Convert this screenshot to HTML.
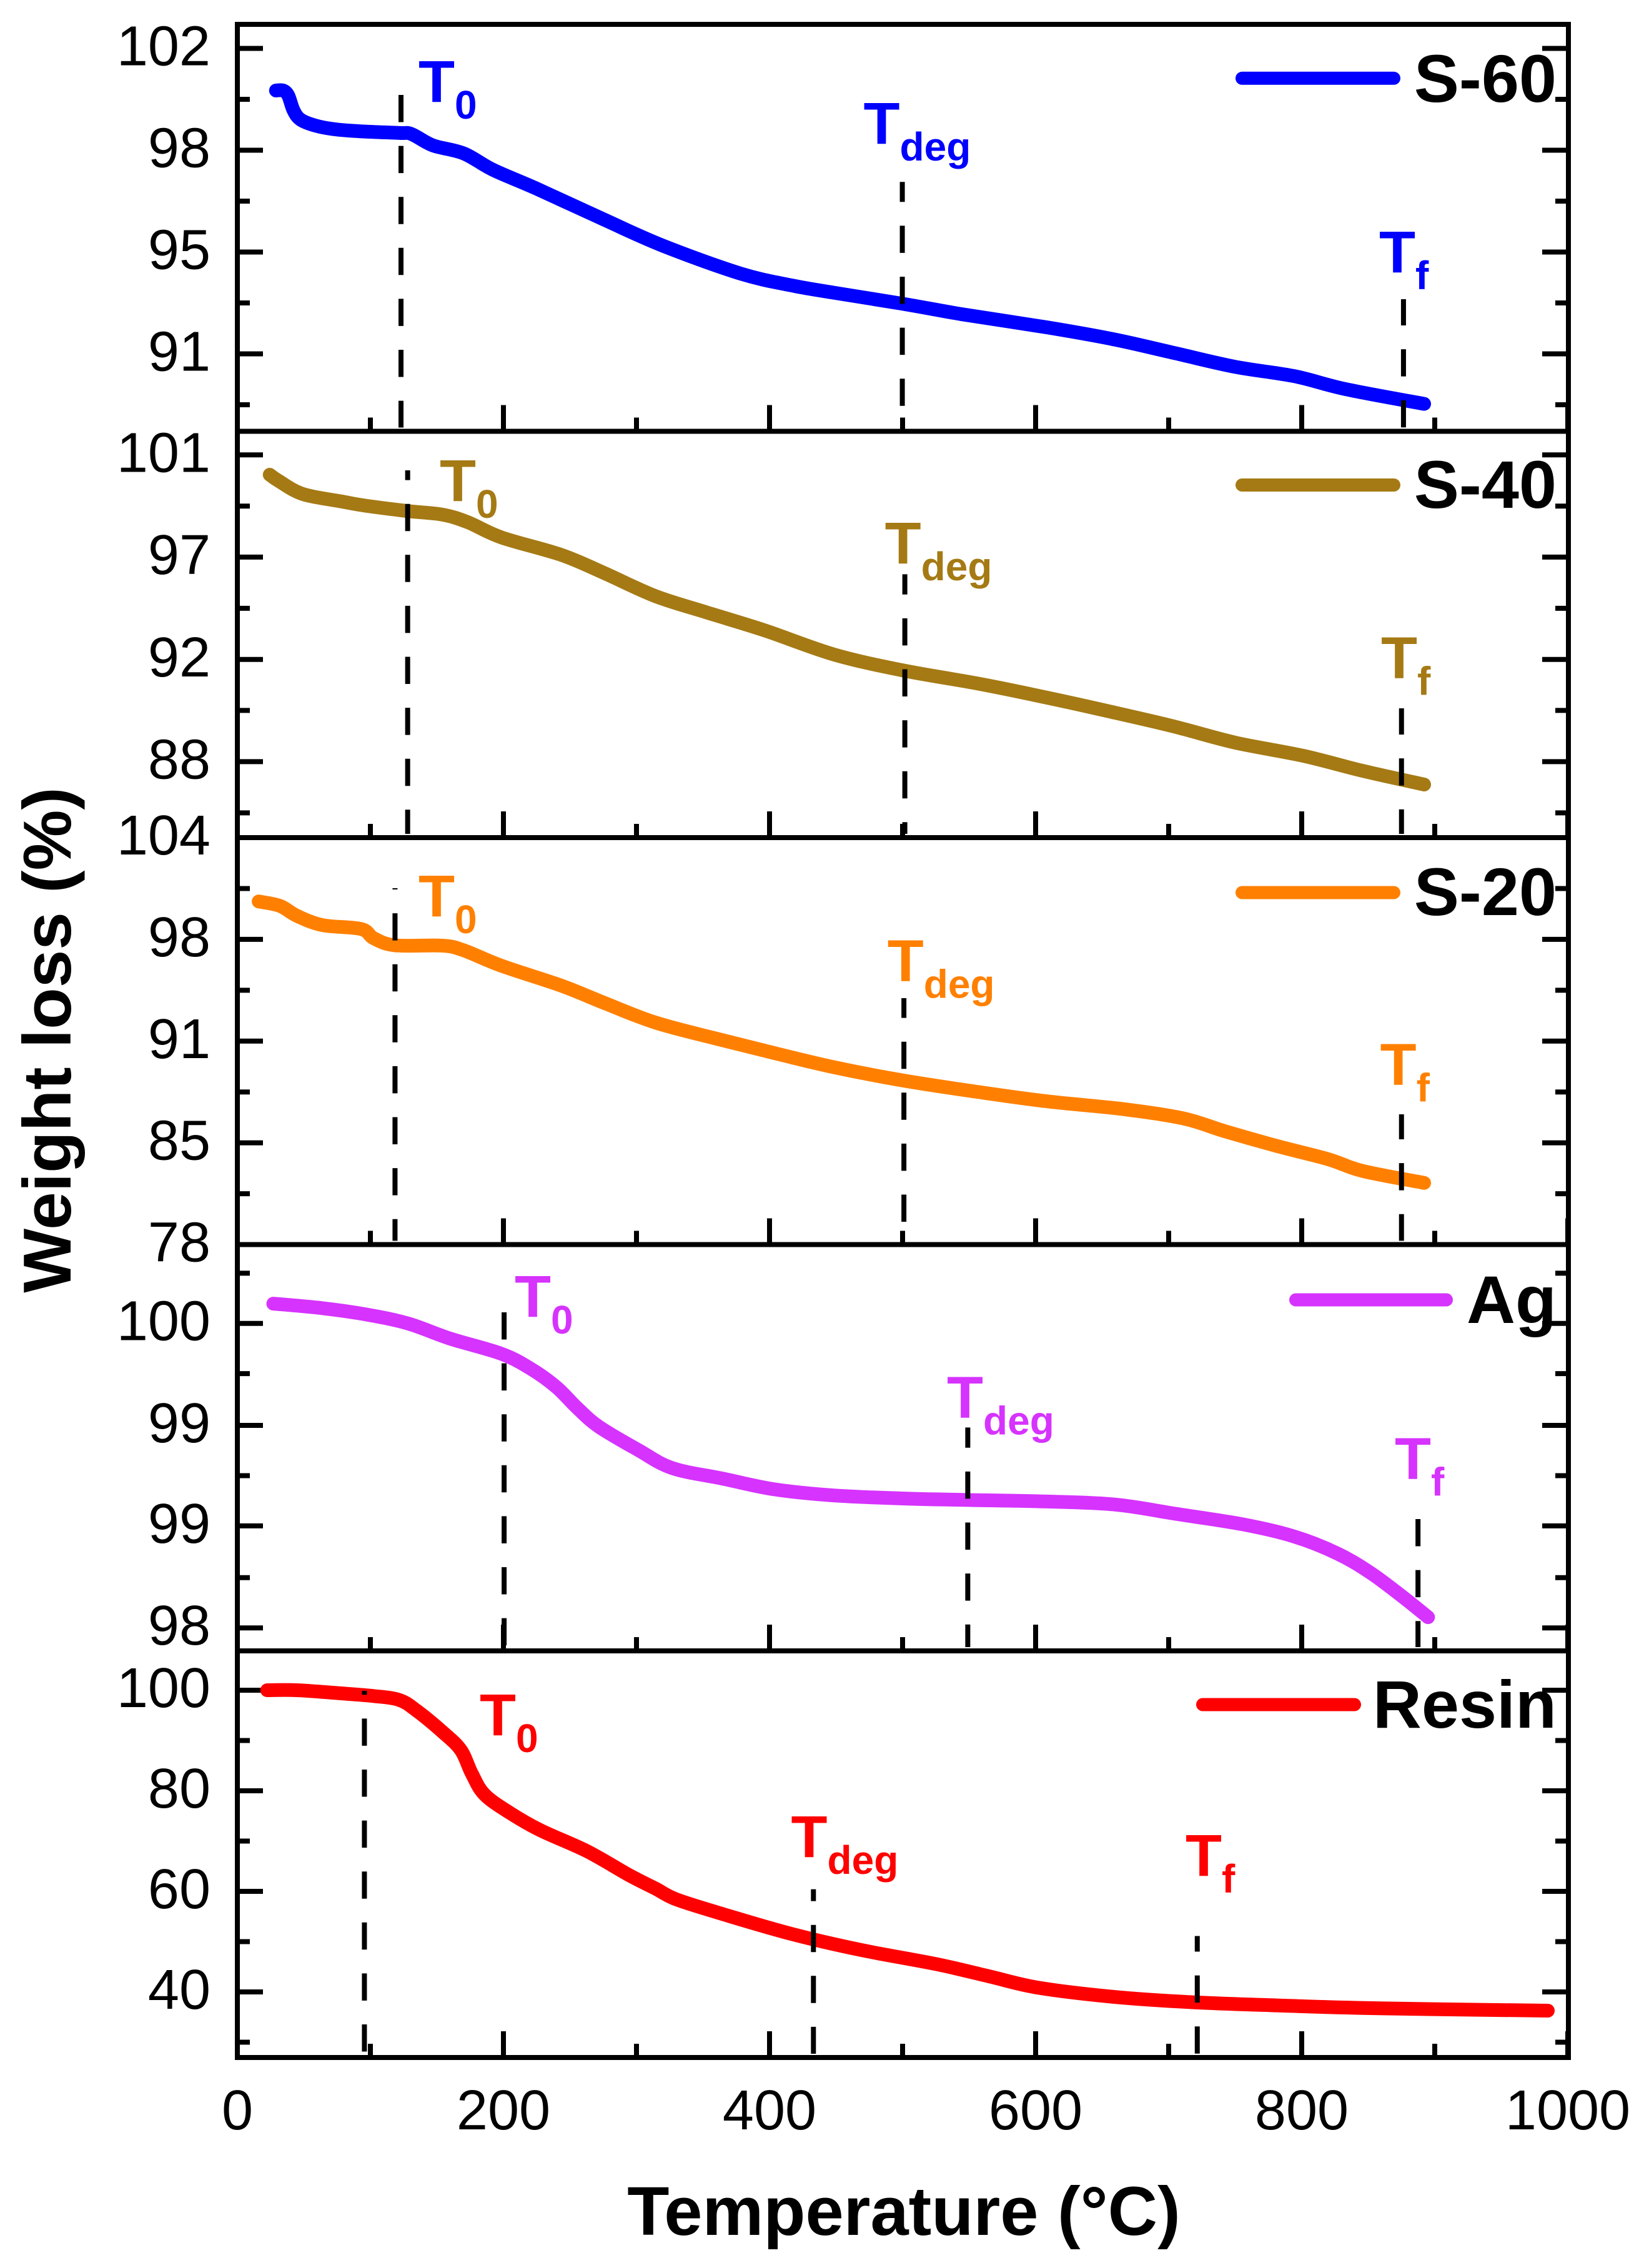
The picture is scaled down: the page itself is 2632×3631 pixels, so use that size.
<!DOCTYPE html>
<html lang="en">
<head>
<meta charset="utf-8">
<title>TGA stacked weight loss chart</title>
<style>
html,body{margin:0;padding:0;background:#fff;}
svg{display:block;}
text{font-family:"Liberation Sans",Arial,sans-serif;}
</style>
</head>
<body>
<svg id="chart" xmlns="http://www.w3.org/2000/svg" width="2632" height="3631" viewBox="0 0 2632 3631">
  <rect x="0" y="0" width="2632" height="3631" fill="#fff"/>
  <text transform="translate(113,1665) rotate(-90)" text-anchor="middle" font-weight="bold" font-size="109" fill="#000">Weight loss (%)</text>
  <text x="1447" y="3578" text-anchor="middle" font-weight="bold" font-size="110" fill="#000">Temperature (°C)</text>
</svg>
<script>
const xTicks = [0, 200, 400, 600, 800, 1000];
const xMinorTicks = [100, 300, 500, 700, 900];

const s60Temps = [29,34.4,38.3,42.2,47.6,59.5,75.1,96,122,131,147,170,192,224,275.5,320,378,416.5,448.5,500,544.6,609,660,705,750,794.5,833,892];
const s60Values = [100.51,100.51,100.33,99.81,99.48,99.26,99.13,99.06,99.01,98.97,98.57,98.29,97.71,97.06,95.95,95.02,94.04,93.62,93.36,92.97,92.6,92.13,91.7,91.22,90.74,90.41,89.95,89.43];
const s60Ticks = [102, 98.4, 94.8, 91.2];
const s60MinorTicks = [100.2, 96.6, 93, 89.4];
const s60TickLabels = ["102", "98", "95", "91"];
const s60Markers = [123, 499.8, 876.5];

const s40Temps = [24.3,31,49.3,79,96,128,154,173,198.6,243.5,275.5,314,352.4,397,448.5,500,557.4,608.7,660,704.8,749.7,801,845.8,892];
const s40Values = [100.16,99.9,99.34,99.02,98.85,98.62,98.47,98.15,97.5,96.76,96,95.02,94.33,93.55,92.54,91.87,91.3,90.71,90.07,89.48,88.81,88.25,87.61,87.03];
const s40Ticks = [101, 96.67, 92.33, 88];
const s40MinorTicks = [98.83, 94.5, 90.17, 85.83];
const s40TickLabels = ["101", "97", "92", "88"];
const s40Markers = [128, 501.7, 875];

const s20Temps = [16,32,44.9,64,93,102.5,118.5,153.8,169.8,198.6,243.5,275.5,314,358.8,403.7,448.5,499.8,557.4,608.7,666.4,711,743,781.7,820,845.8,892];
const s20Values = [99.92,99.64,99,98.41,98.16,97.57,97.12,97.1,96.81,95.81,94.54,93.45,92.19,91.18,90.23,89.33,88.49,87.74,87.15,86.65,86.06,85.22,84.29,83.45,82.7,81.94];
const s20Ticks = [104, 97.5, 91, 84.5, 78];
const s20MinorTicks = [100.75, 94.25, 87.75, 81.25];
const s20TickLabels = ["104", "98", "91", "85", "78"];
const s20Markers = [118.5, 501, 875];

const agTemps = [27,64,96,128,160,198.6,221,240,256,272,301,326.8,365,403.7,448.5,500,551,608.7,660,704.8,756,794.5,826.5,852,878,895];
const agValues = [100.13,100.1,100.06,100,99.9,99.8,99.7,99.58,99.44,99.32,99.17,99.05,98.98,98.91,98.87,98.85,98.84,98.83,98.81,98.75,98.68,98.6,98.49,98.36,98.19,98.07];
const agTicks = [100, 99.33, 98.67, 98];
const agMinorTicks = [100.33, 99.67, 99, 98.33];
const agTickLabels = ["100", "99", "99", "98"];
const agMarkers = [200.5, 549, 887.4];

const resinTemps = [22.4,44.9,76.9,102.5,121.7,134.6,153.8,167.9,176.2,185.8,205,227.5,262.7,294.7,314,330,365.2,416.5,467.7,525.4,563.8,602.3,660,717.6,781.7,858.6,985];
const resinValues = [100,100,99.4,98.85,98.07,95.98,91.8,88.14,83.43,79.25,75.59,72.19,68,63.2,60.6,58.4,55.46,51.54,48.4,45.53,43.18,40.82,38.99,37.95,37.32,36.74,36.28];
const resinTicks = [100, 80, 60, 40];
const resinMinorTicks = [90, 70, 50, 30];
const resinTickLabels = ["100", "80", "60", "40"];
const resinMarkers = [95.5, 433, 721.5];

const seriesNames = ["S-60", "S-40", "S-20", "Ag", "Resin"];
const seriesColors = ["#0000ff", "#a57a14", "#ff8000", "#d633ff", "#ff0000"];
const panelDomainsTop = [102.85, 102.0, 104, 100.518, 107.83];
const panelDomainsBottom = [88.46, 84.78, 78, 97.849, 26.96];

const NS = "http://www.w3.org/2000/svg";
const svg = document.getElementById("chart");
const PLOT_LEFT = 380, PLOT_RIGHT = 2511, X_UNIT = 2.13;
const panelEdges = [39, 690.5, 1341, 1992.5, 2643, 3294];

function xScale(t) { return PLOT_LEFT + t * X_UNIT; }
function yScale(p, v) {
  const top = panelEdges[p], bot = panelEdges[p + 1];
  return top + (panelDomainsTop[p] - v) / (panelDomainsTop[p] - panelDomainsBottom[p]) * (bot - top);
}
function make(tag, parent, props) {
  const n = document.createElementNS(NS, tag);
  for (const k in props) n.setAttribute(k, props[k]);
  parent.appendChild(n);
  return n;
}
function smoothPath(p, temps, values) {
  const pts = temps.map((t, i) => [xScale(t), yScale(p, values[i])]);
  let d = "M" + pts[0][0].toFixed(1) + " " + pts[0][1].toFixed(1);
  for (let i = 0; i < pts.length - 1; i++) {
    const a = pts[Math.max(i - 1, 0)], b = pts[i], c = pts[i + 1], e = pts[Math.min(i + 2, pts.length - 1)];
    const c1x = b[0] + (c[0] - a[0]) / 6, c1y = b[1] + (c[1] - a[1]) / 6;
    const c2x = c[0] - (e[0] - b[0]) / 6, c2y = c[1] - (e[1] - b[1]) / 6;
    d += "C" + c1x.toFixed(1) + " " + c1y.toFixed(1) + " " + c2x.toFixed(1) + " " + c2y.toFixed(1) + " " + c[0].toFixed(1) + " " + c[1].toFixed(1);
  }
  return d;
}

const allTemps = [s60Temps, s40Temps, s20Temps, agTemps, resinTemps];
const allValues = [s60Values, s40Values, s20Values, agValues, resinValues];
const allTicks = [s60Ticks, s40Ticks, s20Ticks, agTicks, resinTicks];
const allMinor = [s60MinorTicks, s40MinorTicks, s20MinorTicks, agMinorTicks, resinMinorTicks];
const allLabels = [s60TickLabels, s40TickLabels, s20TickLabels, agTickLabels, resinTickLabels];
const allMarkers = [s60Markers, s40Markers, s20Markers, agMarkers, resinMarkers];

/* annotation layout (page furniture, not data) */
const markerTops = [[152,291.3,479],[753,919.4,1134],[1422,1598,1784],[2101,2285.4,2432],[2707,3024.6,3099.5]];
const markerFirstDash = [[43.5,32,42],[15.6,32.4,42],[2,31.6,40],[43.5,32.4,43.5],[6.3,19,25]];
const labelXs = [[672,1384.5,2210],[706,1418.6,2213],[672,1422.7,2211.6],[826,1518,2235],[770,1268.5,1900]];
const labelYs = [[163,230,436],[802,902,1085.6],[1467,1570.6,1736.5],[2108,2269.4,2367.5],[2778,2973,3003]];
const markerSubs = ["0", "deg", "f"];
const legendYs = [125.3, 776.5, 1429, 2081, 2729];
const legendBaselines = [163, 813, 1465, 2118, 2766];
const legendStarts = [1988.5, 1988.5, 1988.5, 2074.5, 1925.5];
const legendEnds = [2231.5, 2231.5, 2231.5, 2315.5, 2168.5];

seriesNames.forEach(function (name, p) {
  const key = name.toLowerCase();
  const g = make("g", svg, {});
  
  
  const top = panelEdges[p], bot = panelEdges[p + 1];

  // y ticks, both sides
  allTicks[p].forEach(function (v, i) {
    const y = yScale(p, v);
    const l = make("line", g, {x1: PLOT_LEFT, x2: PLOT_LEFT + 41, y1: y, y2: y, stroke: "#000", "stroke-width": 8});
    
    
    const r = make("line", g, {x1: PLOT_RIGHT - 42, x2: PLOT_RIGHT, y1: y, y2: y, stroke: "#000", "stroke-width": 8});
    
    
    const t = make("text", g, {x: 337, y: y + 27, "text-anchor": "end", "font-size": 90, fill: "#000"});
    
    
    t.textContent = allLabels[p][i];
  });
  allMinor[p].forEach(function (v) {
    const y = yScale(p, v);
    const l = make("line", g, {x1: PLOT_LEFT, x2: PLOT_LEFT + 20, y1: y, y2: y, stroke: "#000", "stroke-width": 8});
    
    
    const r = make("line", g, {x1: PLOT_RIGHT - 21, x2: PLOT_RIGHT, y1: y, y2: y, stroke: "#000", "stroke-width": 8});
    
    
  });

  // x ticks along the bottom of the panel
  xTicks.forEach(function (v) {
    const x = xScale(v);
    const l = make("line", g, {x1: x, x2: x, y1: bot - 42, y2: bot, stroke: "#000", "stroke-width": 8});
    
    
  });
  xMinorTicks.forEach(function (v) {
    const x = xScale(v);
    const l = make("line", g, {x1: x, x2: x, y1: bot - 22, y2: bot, stroke: "#000", "stroke-width": 8});
    
    
  });

  // series curve
  const curve = make("path", g, {d: smoothPath(p, allTemps[p], allValues[p]), fill: "none", stroke: seriesColors[p], "stroke-width": 22, "stroke-linecap": "round", "stroke-linejoin": "round"});
  
  

  // dashed marker lines and labels
  allMarkers[p].forEach(function (t, i) {
    const x = xScale(t);
    const dash = make("line", g, {x1: x, x2: x, y1: markerTops[p][i], y2: bot - 6, stroke: "#000", "stroke-width": 8, "stroke-dasharray": "43.5 38.1", "stroke-dashoffset": 43.5 - markerFirstDash[p][i]});
    
    
    const lab = make("text", g, {x: labelXs[p][i] - 2, y: labelYs[p][i], "font-weight": "bold", "font-size": 95, fill: seriesColors[p]});
    
    
    lab.appendChild(document.createTextNode("T"));
    const sub = make("tspan", lab, {dy: 27, "font-size": 64});
    sub.textContent = markerSubs[i];
  });

  // legend
  const leg = make("line", g, {x1: legendStarts[p], x2: legendEnds[p], y1: legendYs[p], y2: legendYs[p], stroke: seriesColors[p], "stroke-width": 21, "stroke-linecap": "round"});
  
  
  const legText = make("text", g, {x: 2492, y: legendBaselines[p], "text-anchor": "end", "font-weight": "bold", "font-size": 108, fill: "#000"});
  
  
  legText.textContent = name;

  // panel frame
  const frame = make("rect", g, {x: PLOT_LEFT, y: top, width: PLOT_RIGHT - PLOT_LEFT, height: bot - top, fill: "none", stroke: "#000", "stroke-width": 8});
  
  
});

// shared x tick labels
xTicks.forEach(function (v) {
  const t = make("text", svg, {x: xScale(v), y: 3409, "text-anchor": "middle", "font-size": 90, fill: "#000"});
  
  
  t.textContent = String(v);
});
</script>
</body>
</html>
